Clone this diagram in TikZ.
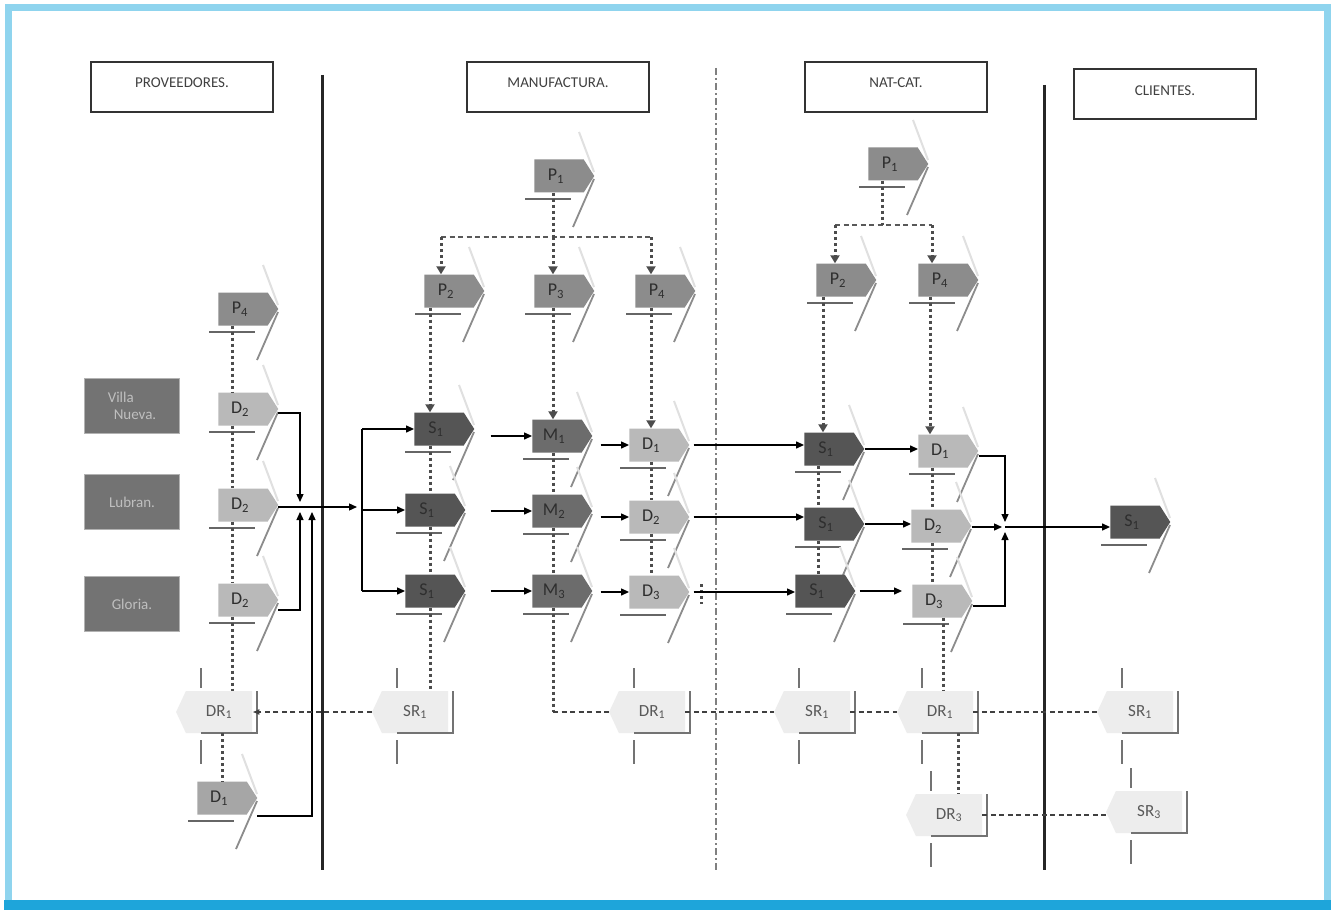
\documentclass[tikz,border=0pt]{standalone}
\usepackage{fontspec}
\setmainfont{Carlito}
\usetikzlibrary{arrows.meta,shapes.symbols,calc}
\definecolor{cP}{HTML}{8C8C8C}
\definecolor{cS}{HTML}{555555}
\definecolor{cM}{HTML}{6C6C6C}
\definecolor{cD}{HTML}{B9B9B9}
\definecolor{cDL}{HTML}{A6A6A6}
\definecolor{frameA}{HTML}{8FD4EE}
\definecolor{frameB}{HTML}{1EA5DA}
\tikzset{
  chevbox/.style={signal, signal to=east, signal pointer angle=115, minimum width=60pt, minimum height=33pt, inner sep=0pt, text=black!82, font=\fontsize{18}{20}\selectfont},
  chevshade/.style={draw=black!12, line width=2pt},
  chevunder/.style={draw=black!60, line width=1.5pt},
  chevdiag/.style={draw=black!45, line width=1.8pt},
  retbox/.style={signal, signal to=west, signal pointer angle=130, fill=black!7, minimum width=76pt, minimum height=42pt, inner sep=0pt, text=black!65, font=\fontsize{17}{19}\selectfont},
  retline/.style={draw=black!55, line width=1.6pt},
  hdr/.style={draw=black!80, line width=1.3pt, minimum width=182pt, minimum height=50pt, inner sep=0pt, text=black!75, font=\fontsize{15}{17}\selectfont},
  comp/.style={draw=black!30, fill=black!55, line width=1.5pt, minimum width=95pt, minimum height=55pt, inner sep=3pt, text=black!25, align=left, font=\fontsize{15}{17}\selectfont},
  flow/.style={draw=black, line width=1.3pt, -{Triangle[length=8pt,width=7pt]}},
  flowline/.style={draw=black, line width=1.3pt},
  plan/.style={draw=black!70, line width=3pt, dash pattern=on 3pt off 3pt},
  planarr/.style={plan, -{Triangle[length=8pt,width=9pt]}},
  planbar/.style={draw=black!65, line width=1.6pt, dash pattern=on 5pt off 3.5pt},
  retl/.style={draw=black!75, line width=1.3pt, dash pattern=on 5pt off 3.5pt},
}
\newcommand\chev[5]{%
  \draw[chevshade] ($(#2,#3)+(20,-44)$) -- ($(#2,#3)+(35,-4)$);
  \node[chevbox,fill=#4] (#1) at (#2,#3) {\hspace*{-6pt}#5};
  \draw[chevunder] ($(#1.center)+(-34,23)$) -- ++(46,0);
  \draw[chevdiag] ($(#1.center)+(35,3)$) -- ($(#1.center)+(14,51)$);
}
\newcommand\ret[4]{%
  \node[retbox] (#1) at (#2+2,#3) {#4};
  \draw[retline] ($(#2,#3)+(40,-21)$) -- ($(#2,#3)+(40,21)$) -- ($(#2,#3)+(-16,21)$);
  \draw[retline] ($(#2,#3)+(-16,-44)$) -- ++(0,20);
  \draw[retline] ($(#2,#3)+(-16,28)$) -- ++(0,24);
}
\begin{document}
\begin{tikzpicture}[x=1pt,y=-1pt]
\useasboundingbox (0,0) rectangle (1335,912);
\fill[white] (0,0) rectangle (1335,912);
\draw[frameA, line width=7pt] (8,8) rectangle (1327,904);
\fill[frameB] (4,900) rectangle (1331,910);

% headers
\node[hdr] (h1) at (182,87) {\raisebox{8pt}{PROVEEDORES.}};
\node[hdr] (h2) at (558,87) {\raisebox{8pt}{MANUFACTURA.}};
\node[hdr] (h3) at (896,87) {\raisebox{8pt}{NAT-CAT.}};
\node[hdr] (h4) at (1165,94) {\raisebox{6pt}{CLIENTES.}};

% separators
\draw[line width=3pt, black!85] (322,75) -- (322,870);
\draw[line width=3pt, black!85] (1044,85) -- (1044,870);
\draw[black!50, line width=1.4pt, dash pattern=on 7pt off 3pt on 2pt off 3pt] (716,68) -- (716,870);

% companies
\node[comp] (vn) at (132,406) {Villa\\\hspace*{6pt}Nueva.};
\node[comp] (lu) at (132,502) {Lubran.};
\node[comp] (gl) at (132,604) {Gloria.};

% ---------- proveedores
\chev{pa}{243}{309}{cP}{P\textsubscript{4}}
\chev{da}{243}{409}{cD}{D\textsubscript{2}}
\chev{db}{243}{505}{cD}{D\textsubscript{2}}
\chev{dc}{243}{600}{cD}{D\textsubscript{2}}
\chev{dd}{222}{798}{cDL}{D\textsubscript{1}}
\ret{dra}{217}{712}{DR\textsubscript{1}}

% ---------- manufactura
\chev{mp1}{559}{176}{cP}{P\textsubscript{1}}
\chev{mp2}{449}{291}{cP}{P\textsubscript{2}}
\chev{mp3}{559}{291}{cP}{P\textsubscript{3}}
\chev{mp4}{660}{291}{cP}{P\textsubscript{4}}
\chev{ms1}{439}{429}{cS}{S\textsubscript{1}}
\chev{ms2}{430}{510}{cS}{S\textsubscript{1}}
\chev{ms3}{430}{591}{cS}{S\textsubscript{1}}
\chev{mm1}{557}{436}{cM}{M\textsubscript{1}}
\chev{mm2}{557}{511}{cM}{M\textsubscript{2}}
\chev{mm3}{557}{591}{cM}{M\textsubscript{3}}
\chev{md1}{654}{445}{cD}{D\textsubscript{1}}
\chev{md2}{654}{517}{cD}{D\textsubscript{2}}
\chev{md3}{654}{592}{cD}{D\textsubscript{3}}
\ret{msr}{413}{712}{SR\textsubscript{1}}
\ret{mdr}{650}{712}{DR\textsubscript{1}}

% ---------- nat-cat
\chev{np1}{893}{164}{cP}{P\textsubscript{1}}
\chev{np2}{841}{280}{cP}{P\textsubscript{2}}
\chev{np4}{943}{280}{cP}{P\textsubscript{4}}
\chev{ns1}{829}{449}{cS}{S\textsubscript{1}}
\chev{ns2}{829}{524}{cS}{S\textsubscript{1}}
\chev{ns3}{820}{591}{cS}{S\textsubscript{1}}
\chev{nd1}{943}{451}{cD}{D\textsubscript{1}}
\chev{nd2}{936}{526}{cD}{D\textsubscript{2}}
\chev{nd3}{937}{601}{cD}{D\textsubscript{3}}
\ret{nsr}{815}{712}{SR\textsubscript{1}}
\ret{ndr}{938}{712}{DR\textsubscript{1}}
\ret{ndr3}{947}{815}{DR\textsubscript{3}}

% ---------- clientes
\chev{cs}{1135}{522}{cS}{S\textsubscript{1}}
\ret{csr}{1138}{712}{SR\textsubscript{1}}
\ret{csr3}{1147}{812}{SR\textsubscript{3}}

% ===== plan (dotted) links: proveedores
\draw[plan] ([xshift=-11pt]pa.south) -- ([xshift=-11pt]da.north);
\draw[plan] ([xshift=-11pt]da.south) -- ([xshift=-11pt]db.north);
\draw[plan] ([xshift=-11pt]db.south) -- ([xshift=-11pt]dc.north);
\draw[plan] ([xshift=-11pt]dc.south) -- ([xshift=-11pt]dc.south |- dra.north);
\draw[plan] (dd.north |- dra.south) -- (dd.north);

% manufactura plan
\coordinate (mbl) at (441,237);
\coordinate (mbr) at (651,237);
\draw[planbar] (mbl) -- (mbr);
\draw[plan] ([xshift=-6pt]mp1.south) -- ([xshift=-6pt]mp1.south |- mbl);
\draw[planarr] (mbl) -- (mbl |- mp2.north);
\draw[planarr] ([xshift=-6pt]mp3.north |- mbl) -- ([xshift=-6pt]mp3.north);
\draw[planarr] (mbr) -- (mbr |- mp4.north);
\draw[planarr] ([xshift=-9pt]ms1.north |- mp2.south) -- ([xshift=-9pt]ms1.north);
\draw[plan] (ms2.north |- ms1.south) -- (ms2.north);
\draw[plan] (ms2.south) -- (ms3.north);
\draw[plan] (ms3.south) -- (ms3.south |- msr.north);
\draw[planarr] ([xshift=-4pt]mm1.north |- mp3.south) -- ([xshift=-4pt]mm1.north);
\draw[plan] ([xshift=-4pt]mm1.south) -- ([xshift=-4pt]mm2.north);
\draw[plan] ([xshift=-4pt]mm2.south) -- ([xshift=-4pt]mm3.north);
\coordinate (mcor) at ([xshift=-4pt]mm3.south |- mdr.west);
\draw[plan] ([xshift=-4pt]mm3.south) -- (mcor);
\draw[retl] (mcor) -- (mdr.west);
\draw[planarr] ([xshift=-3pt]md1.north |- mp4.south) -- ([xshift=-3pt]md1.north);
\draw[plan] ([xshift=-3pt]md1.south) -- ([xshift=-3pt]md2.north);
\draw[plan] ([xshift=-3pt]md2.south) -- ([xshift=-3pt]md3.north);
\draw[plan] ([xshift=12pt,yshift=8pt]md3.east) -- ([xshift=12pt,yshift=-12pt]md3.east);

% nat-cat plan
\coordinate (nbl) at (835,225);
\coordinate (nbr) at (932,225);
\draw[planbar] (nbl) -- (nbr);
\draw[plan] ([xshift=-11pt]np1.south) -- ([xshift=-11pt]np1.south |- nbl);
\draw[planarr] (nbl) -- (nbl |- np2.north);
\draw[planarr] (nbr) -- (nbr |- np4.north);
\draw[planarr] ([xshift=-6pt]ns1.north |- np2.south) -- ([xshift=-6pt]ns1.north);
\draw[planarr] ([xshift=-13pt]nd1.north |- np4.south) -- ([xshift=-13pt]nd1.north);
\draw[plan] ([xshift=-11pt]ns2.north |- ns1.south) -- ([xshift=-11pt]ns2.north);
\draw[plan] ([xshift=-11pt]ns2.south) -- ([xshift=-11pt]ns2.south |- ns3.north);
\draw[plan] ([xshift=-4pt]nd2.north |- nd1.south) -- ([xshift=-4pt]nd2.north);
\draw[plan] ([xshift=-4pt]nd2.south) -- ([xshift=-4pt]nd2.south |- nd3.north);
\draw[plan] ([xshift=6pt]nd3.south) -- ([xshift=6pt]nd3.south |- ndr.north);
\draw[plan] ([xshift=18pt]ndr.south) -- ([xshift=18pt]ndr.south |- ndr3.north);

% ===== material flows: proveedores -> manufactura
\coordinate (jA) at (300,507);
\coordinate (jB) at (312,507);
\coordinate (fan) at (362,507);
\draw[flow] ([yshift=-4pt]da.east) -| ([yshift=5pt]jA);
\draw[flow] ([yshift=-10pt]dc.east) -| ([yshift=-5pt]jA);
\draw[flow] ([yshift=-18pt]dd.east) -| ([yshift=-5pt]jB);
\draw[flow, shorten >=5pt] ([yshift=-2pt]db.east) -- (fan);
\draw[flowline] (fan |- ms1.west) -- (fan |- ms3.west);
\draw[flow] (fan |- ms1.west) -- (ms1.west);
\draw[flow] (fan |- ms2.west) -- (ms2.west);
\draw[flow] (fan |- ms3.west) -- (ms3.west);

% manufactura internal
\draw[flow] ([xshift=16pt]ms1.east |- mm1.west) -- (mm1.west);
\draw[flow] ([xshift=25pt]ms2.east |- mm2.west) -- (mm2.west);
\draw[flow] ([xshift=25pt]ms3.east |- mm3.west) -- (mm3.west);
\draw[flow] ([xshift=8pt]mm1.east |- md1.west) -- (md1.west);
\draw[flow] ([xshift=8pt]mm2.east |- md2.west) -- (md2.west);
\draw[flow] ([xshift=8pt]mm3.east |- md3.west) -- (md3.west);

% manufactura -> nat-cat
\draw[flow] ([xshift=4pt]md1.east) -- (md1.east -| ns1.west);
\draw[flow] ([xshift=4pt]md2.east) -- (md2.east -| ns2.west);
\draw[flow] ([xshift=4pt]md3.east) -- (md3.east -| ns3.west);

% nat-cat internal
\draw[flow] (ns1.east) -- (ns1.east -| nd1.west);
\draw[flow] (ns2.east) -- (ns2.east -| nd2.west);
\draw[flow] ([xshift=4pt]ns3.east) -- ([xshift=-10pt]ns3.east -| nd3.west);

% nat-cat -> clientes
\coordinate (jN) at (1005,527);
\draw[flow] ([yshift=-5pt]nd1.east) -| ([yshift=5pt]jN);
\draw[flow] ([yshift=-5pt]nd3.east) -| ([yshift=-5pt]jN);
\draw[flow] (nd2.east |- jN) -- ([xshift=-3pt]jN);
\draw[flow] (jN) -- (jN -| cs.west);

% ===== return links
\draw[retl, -{Latex[length=7pt,width=6pt]}] (msr.west) -- (msr.west -| dra.east);
\draw[retl] (mdr.east) -- (mdr.east -| nsr.west);
\draw[retl] (nsr.east) -- (nsr.east -| ndr.west);
\draw[retl] (ndr.east) -- (ndr.east -| csr.west);
\draw[retl] (ndr3.east) -- (ndr3.east -| csr3.west);
\end{tikzpicture}
\end{document}
